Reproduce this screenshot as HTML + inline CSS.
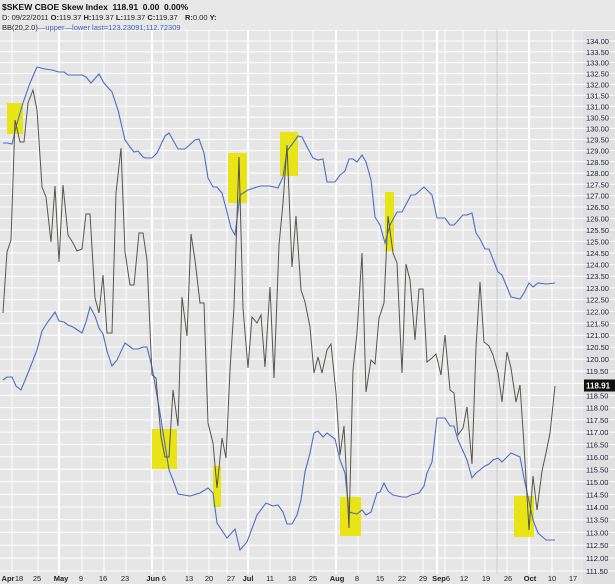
<!DOCTYPE html>
<html><head><meta charset="utf-8"><style>
html,body{margin:0;padding:0;background:#e8e8e8;}
svg{display:block;font-family:"Liberation Sans",sans-serif;}
</style></head><body>
<svg width="615" height="584" viewBox="0 0 615 584" xmlns="http://www.w3.org/2000/svg">
<rect x="0" y="0" width="615" height="584" fill="#e6e6e6"/>
<rect x="583" y="30" width="32" height="554" fill="#e0e0e0"/>
<g stroke="#ffffff" stroke-width="1">
<line x1="0" x2="615" y1="30.3" y2="30.3"/><line x1="0" x2="615" y1="41" y2="41"/><line x1="0" x2="615" y1="51.8" y2="51.8"/><line x1="0" x2="615" y1="62.6" y2="62.6"/><line x1="0" x2="615" y1="73.5" y2="73.5"/><line x1="0" x2="615" y1="84.4" y2="84.4"/><line x1="0" x2="615" y1="95.3" y2="95.3"/><line x1="0" x2="615" y1="106.3" y2="106.3"/><line x1="0" x2="615" y1="117.3" y2="117.3"/><line x1="0" x2="615" y1="128.4" y2="128.4"/><line x1="0" x2="615" y1="139.5" y2="139.5"/><line x1="0" x2="615" y1="150.6" y2="150.6"/><line x1="0" x2="615" y1="161.8" y2="161.8"/><line x1="0" x2="615" y1="173.1" y2="173.1"/><line x1="0" x2="615" y1="184.3" y2="184.3"/><line x1="0" x2="615" y1="195.7" y2="195.7"/><line x1="0" x2="615" y1="207" y2="207"/><line x1="0" x2="615" y1="218.4" y2="218.4"/><line x1="0" x2="615" y1="229.9" y2="229.9"/><line x1="0" x2="615" y1="241.4" y2="241.4"/><line x1="0" x2="615" y1="253" y2="253"/><line x1="0" x2="615" y1="264.6" y2="264.6"/><line x1="0" x2="615" y1="276.2" y2="276.2"/><line x1="0" x2="615" y1="287.9" y2="287.9"/><line x1="0" x2="615" y1="299.6" y2="299.6"/><line x1="0" x2="615" y1="311.4" y2="311.4"/><line x1="0" x2="615" y1="323.3" y2="323.3"/><line x1="0" x2="615" y1="335.2" y2="335.2"/><line x1="0" x2="615" y1="347.1" y2="347.1"/><line x1="0" x2="615" y1="359.1" y2="359.1"/><line x1="0" x2="615" y1="371.1" y2="371.1"/><line x1="0" x2="615" y1="383.2" y2="383.2"/><line x1="0" x2="615" y1="395.4" y2="395.4"/><line x1="0" x2="615" y1="407.6" y2="407.6"/><line x1="0" x2="615" y1="419.8" y2="419.8"/><line x1="0" x2="615" y1="432.1" y2="432.1"/><line x1="0" x2="615" y1="444.5" y2="444.5"/><line x1="0" x2="615" y1="456.9" y2="456.9"/><line x1="0" x2="615" y1="469.3" y2="469.3"/><line x1="0" x2="615" y1="481.8" y2="481.8"/><line x1="0" x2="615" y1="494.4" y2="494.4"/><line x1="0" x2="615" y1="507" y2="507"/><line x1="0" x2="615" y1="519.7" y2="519.7"/><line x1="0" x2="615" y1="532.4" y2="532.4"/><line x1="0" x2="615" y1="545.2" y2="545.2"/><line x1="0" x2="615" y1="558.1" y2="558.1"/><line x1="0" x2="615" y1="571" y2="571"/>
</g>
<g stroke="#ffffff" stroke-width="1">
<line x1="12" x2="12" y1="30" y2="574"/><line x1="38" x2="38" y1="30" y2="574"/><line x1="82" x2="82" y1="30" y2="574"/><line x1="104" x2="104" y1="30" y2="574"/><line x1="126" x2="126" y1="30" y2="574"/><line x1="163" x2="163" y1="30" y2="574"/><line x1="187" x2="187" y1="30" y2="574"/><line x1="209" x2="209" y1="30" y2="574"/><line x1="227" x2="227" y1="30" y2="574"/><line x1="270" x2="270" y1="30" y2="574"/><line x1="292" x2="292" y1="30" y2="574"/><line x1="313" x2="313" y1="30" y2="574"/><line x1="358" x2="358" y1="30" y2="574"/><line x1="379" x2="379" y1="30" y2="574"/><line x1="402" x2="402" y1="30" y2="574"/><line x1="423" x2="423" y1="30" y2="574"/><line x1="445" x2="445" y1="30" y2="574"/><line x1="463" x2="463" y1="30" y2="574"/><line x1="485" x2="485" y1="30" y2="574"/><line x1="507" x2="507" y1="30" y2="574"/><line x1="552" x2="552" y1="30" y2="574"/><line x1="573" x2="573" y1="30" y2="574"/>
</g>
<g stroke="#ffffff" stroke-width="2">
<line x1="59" x2="59" y1="30" y2="574"/><line x1="152" x2="152" y1="30" y2="574"/><line x1="248" x2="248" y1="30" y2="574"/><line x1="336" x2="336" y1="30" y2="574"/><line x1="437" x2="437" y1="30" y2="574"/><line x1="529" x2="529" y1="30" y2="574"/>
</g>
<line x1="497" x2="497" y1="30" y2="574" stroke="#c9cfcf" stroke-width="1"/>
<g fill="#e8e415">
<rect x="7" y="103" width="16" height="31"/>
<rect x="152" y="429" width="25" height="40"/>
<rect x="213" y="466" width="8" height="41"/>
<rect x="228" y="153" width="19" height="50"/>
<rect x="280" y="132" width="18" height="44"/>
<rect x="385" y="192" width="9" height="59"/>
<rect x="340" y="497" width="21" height="39"/>
<rect x="514" y="496" width="20" height="41"/>
</g>
<polyline fill="none" stroke="#4a6fc4" stroke-width="1.1" points="3,143 7,143 12,144 16,127 23,103 30,83 37,67 45,69 52,70 59,72 64,72 68,75 82,75 86,77 91,83 99,74 104,83 112,92 118,110 125,140 130,147 134,152 138,151 143,157 145,158 152,158 157,153 165,136 169,133 178,149 185,149 195,140 199,139 204,153 208,178 213,187 217,187 222,193 227,212 231,228 235,235 240,195 248,190 257,187 261,186 270,186 278,188 283,177 287,151 293,143 298,136 302,137 307,147 313,158 318,160 323,159 327,182 335,182 340,175 345,171 349,159 353,159 357,162 362,155 366,162 371,180 375,217 380,225 385,243 390,225 397,212 402,212 411,195 415,195 424,187 432,195 437,218 445,218 450,225 454,225 463,215 467,215 472,213 476,233 480,239 485,249 489,249 498,272 502,275 511,297 520,299 524,293 529,283 533,287 538,283 546,284 555,283"/>
<polyline fill="none" stroke="#4a6fc4" stroke-width="1.1" points="3,380 7,377 12,377 16,386 21,390 28,373 37,350 42,331 47,323 55,312 59,321 64,322 68,325 73,327 82,333 86,322 90,307 95,316 99,328 103,334 107,351 112,366 117,360 125,343 133,349 138,349 143,347 147,347 152,367 160,413 169,470 173,480 178,494 190,496 200,493 208,488 213,493 217,523 227,538 235,529 240,550 247,542 257,515 266,503 273,506 278,505 283,512 287,524 292,524 297,515 301,500 305,472 310,453 314,433 318,431 323,437 327,433 335,439 340,460 345,473 349,512 357,514 362,510 366,515 371,512 377,493 380,492 384,483 388,491 393,495 402,497 407,497 411,495 415,494 419,493 424,486 427,473 432,462 437,418 445,418 450,426 454,426 458,440 467,460 472,478 476,473 485,466 489,464 493,460 498,458 502,462 511,453 520,457 524,478 533,520 538,533 546,540 555,540"/>
<polyline fill="none" stroke="#555550" stroke-width="1" points="3,313 7,252 11,240 15,120 20,142 24,142 28,103 33,90 37,110 42,187 46,197 51,242 55,186 59,262 63,185 68,235 73,243 77,251 82,249 86,214 90,214 95,298 99,313 103,275 107,333 112,333 116,193 121,148 125,252 130,285 134,285 139,233 143,233 147,260 152,375 156,378 161,437 165,457 169,457 173,390 178,426 182,297 187,336 191,234 195,260 200,303 204,303 208,423 213,443 217,488 222,438 226,458 230,370 234,307 239,157 243,308 248,368 252,317 257,323 261,315 265,367 270,287 274,378 279,245 283,203 287,145 292,267 296,216 301,290 305,302 310,327 314,373 318,357 322,373 327,350 331,344 336,393 340,455 344,426 349,528 353,370 357,333 362,253 366,392 371,360 375,364 379,318 384,303 388,216 393,253 397,263 402,373 406,264 410,280 415,340 419,289 423,289 427,362 432,358 436,354 441,375 445,335 450,390 454,393 458,435 463,428 467,407 472,464 476,347 480,282 484,342 489,346 493,355 498,373 502,402 507,352 511,368 516,402 520,385 524,445 529,530 533,476 537,510 542,471 546,453 550,433 555,386"/>
<rect x="0" y="0" width="615" height="30" fill="#e8e8e8"/>
<text x="2" y="10" font-size="8.5" font-weight="bold" fill="#111">$SKEW CBOE Skew Index&#160;&#160;118.91&#160;&#160;0.00&#160;&#160;0.00%</text>
<text x="2" y="20" font-size="7.5" fill="#222">D: 09/22/2011 <tspan font-weight="bold">O:</tspan>119.37 <tspan font-weight="bold">H:</tspan>119.37 <tspan font-weight="bold">L:</tspan>119.37 <tspan font-weight="bold">C:</tspan>119.37</text>
<text x="185" y="20" font-size="7.5" fill="#222"><tspan font-weight="bold">R:</tspan>0.00 <tspan font-weight="bold">Y:</tspan></text>
<text x="2" y="30" font-size="7.5" fill="#222">BB(20,2.0)<tspan fill="#3b5fb8">—upper—lower last=123.23091;112.72309</tspan></text>
<g font-size="7.5" fill="#1a1a3a">
<text x="586" y="44">134.00</text><text x="586" y="54.8">133.50</text><text x="586" y="65.6">133.00</text><text x="586" y="76.5">132.50</text><text x="586" y="87.4">132.00</text><text x="586" y="98.3">131.50</text><text x="586" y="109.3">131.00</text><text x="586" y="120.3">130.50</text><text x="586" y="131.4">130.00</text><text x="586" y="142.5">129.50</text><text x="586" y="153.6">129.00</text><text x="586" y="164.8">128.50</text><text x="586" y="176.1">128.00</text><text x="586" y="187.3">127.50</text><text x="586" y="198.7">127.00</text><text x="586" y="210">126.50</text><text x="586" y="221.4">126.00</text><text x="586" y="232.9">125.50</text><text x="586" y="244.4">125.00</text><text x="586" y="256">124.50</text><text x="586" y="267.6">124.00</text><text x="586" y="279.2">123.50</text><text x="586" y="290.9">123.00</text><text x="586" y="302.6">122.50</text><text x="586" y="314.4">122.00</text><text x="586" y="326.3">121.50</text><text x="586" y="338.2">121.00</text><text x="586" y="350.1">120.50</text><text x="586" y="362.1">120.00</text><text x="586" y="374.1">119.50</text><text x="586" y="398.4">118.50</text><text x="586" y="410.6">118.00</text><text x="586" y="422.8">117.50</text><text x="586" y="435.1">117.00</text><text x="586" y="447.5">116.50</text><text x="586" y="459.9">116.00</text><text x="586" y="472.3">115.50</text><text x="586" y="484.8">115.00</text><text x="586" y="497.4">114.50</text><text x="586" y="510">114.00</text><text x="586" y="522.7">113.50</text><text x="586" y="535.4">113.00</text><text x="586" y="548.2">112.50</text><text x="586" y="561.1">112.00</text><text x="586" y="574">111.50</text>
</g>
<rect x="584" y="379.5" width="31" height="12" fill="#111"/>
<text x="586" y="388.5" font-size="8" font-weight="bold" fill="#fff">118.91</text>
<g font-size="7.5" fill="#222" text-anchor="middle">
<text x="8" y="581" font-weight="bold">Apr</text><text x="19" y="581">18</text><text x="37" y="581">25</text><text x="61" y="581" font-weight="bold">May</text><text x="81" y="581">9</text><text x="103" y="581">16</text><text x="125" y="581">23</text><text x="153" y="581" font-weight="bold">Jun</text><text x="164" y="581">6</text><text x="189" y="581">13</text><text x="209" y="581">20</text><text x="231" y="581">27</text><text x="248" y="581" font-weight="bold">Jul</text><text x="270" y="581">11</text><text x="292" y="581">18</text><text x="313" y="581">25</text><text x="337" y="581" font-weight="bold">Aug</text><text x="357" y="581">8</text><text x="380" y="581">15</text><text x="402" y="581">22</text><text x="423" y="581">29</text><text x="439" y="581" font-weight="bold">Sep</text><text x="448" y="581">6</text><text x="464" y="581">12</text><text x="486" y="581">19</text><text x="508" y="581">26</text><text x="530" y="581" font-weight="bold">Oct</text><text x="552" y="581">10</text><text x="573" y="581">17</text>
</g>
</svg>
</body></html>
